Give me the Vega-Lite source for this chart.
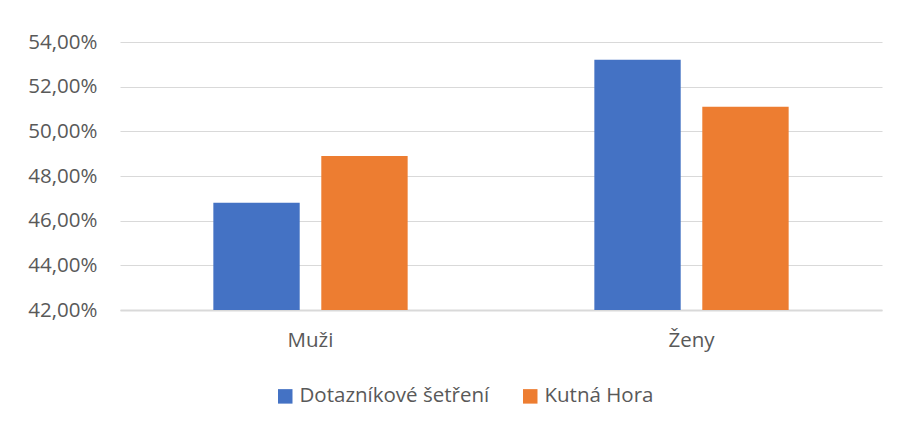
{
  "$schema": "https://vega.github.io/schema/vega-lite/v6.json",
  "width": 762,
  "height": 268,
  "autosize": {"type": "none"},
  "padding": {"left": 120, "top": 42, "right": 16, "bottom": 115},
  "background": "white",
  "data": {
    "values": [
      {"pohlavi": "Muži", "serie": "Dotazníkové šetření", "podil": 46.8},
      {"pohlavi": "Muži", "serie": "Kutná Hora", "podil": 48.9},
      {"pohlavi": "Ženy", "serie": "Dotazníkové šetření", "podil": 53.2},
      {"pohlavi": "Ženy", "serie": "Kutná Hora", "podil": 51.1}
    ]
  },
  "mark": {"type": "bar"},
  "encoding": {
    "x": {
      "field": "pohlavi",
      "type": "nominal",
      "sort": ["Muži", "Ženy"],
      "scale": {"paddingInner": 0.49, "paddingOuter": 0.245},
      "axis": {
        "title": null,
        "labelAngle": 0,
        "domain": true,
        "domainColor": "#D9D9D9",
        "domainWidth": 2,
        "ticks": false,
        "labelPadding": 20,
        "labelFontSize": 20.5,
        "labelColor": "#595959",
        "labelFont": "Open Sans"
      }
    },
    "xOffset": {
      "field": "serie",
      "type": "nominal",
      "sort": ["Dotazníkové šetření", "Kutná Hora"],
      "scale": {"paddingInner": 0.2, "paddingOuter": 0}
    },
    "y": {
      "field": "podil",
      "type": "quantitative",
      "scale": {"domain": [42, 54], "zero": false, "nice": false},
      "axis": {
        "title": null,
        "values": [42, 44, 46, 48, 50, 52, 54],
        "labelExpr": "replace(format(datum.value, '.2f'), '.', ',') + '%'",
        "domain": false,
        "ticks": false,
        "labelPadding": 23,
        "grid": true,
        "gridColor": "#D9D9D9",
        "gridWidth": 1.2,
        "labelFontSize": 20.5,
        "labelColor": "#595959",
        "labelFont": "Open Sans"
      }
    },
    "y2": {"datum": 42},
    "color": {
      "field": "serie",
      "type": "nominal",
      "sort": ["Dotazníkové šetření", "Kutná Hora"],
      "scale": {"range": ["#4472C4", "#ED7D31"]},
      "legend": {
        "orient": "none",
        "legendX": 155,
        "legendY": 344,
        "title": null,
        "direction": "horizontal",
        "symbolType": "square",
        "symbolSize": 210,
        "symbolStrokeWidth": 0,
        "symbolOpacity": 1,
        "labelFontSize": 20.5,
        "labelColor": "#595959",
        "labelFont": "Open Sans",
        "labelOffset": 4,
        "labelLimit": 0,
        "columnPadding": 30,
        "padding": 0
      }
    }
  },
  "config": {"view": {"stroke": null}}
}
